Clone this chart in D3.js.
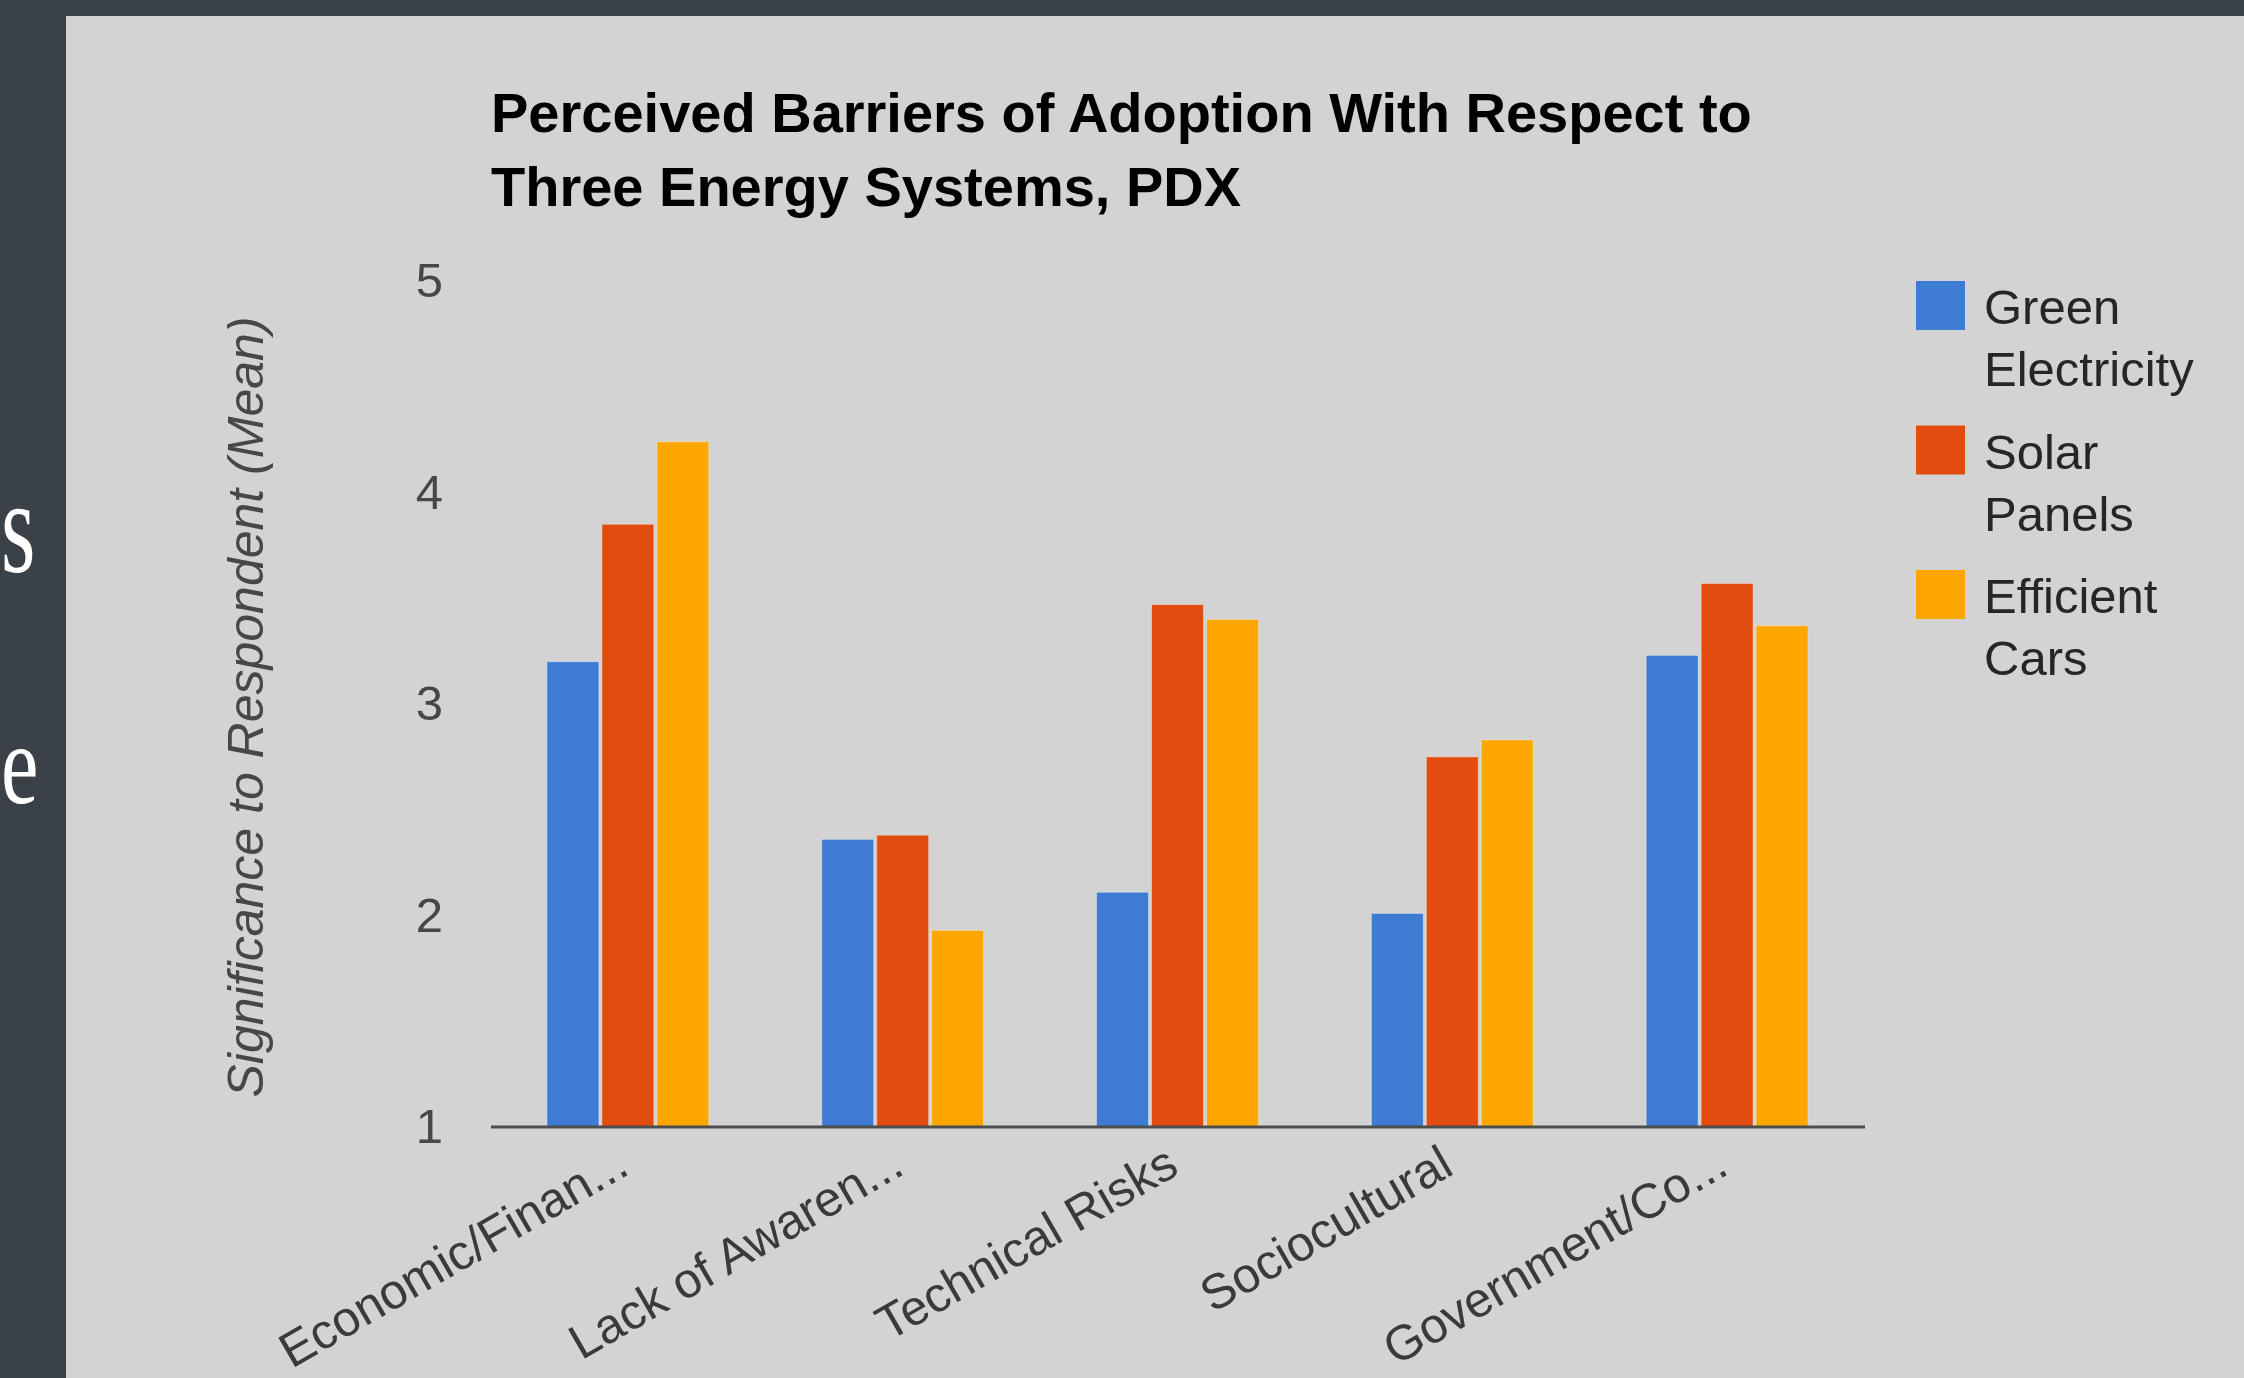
<!DOCTYPE html>
<html>
<head>
<meta charset="utf-8">
<script src="https://cdn.jsdelivr.net/npm/d3@7"></script>
<style>
  body { margin: 0; background: #3a4248; }
  svg { display: block; }
</style>
</head>
<body>
<svg id="graph" width="2244" height="1378"></svg>
<script>
// data
var categories = [
  "Economic/Finan...",
  "Lack of Awaren...",
  "Technical Risks",
  "Sociocultural",
  "Government/Co...",
];
var seriesNames = ["Green Electricity", "Solar Panels", "Efficient Cars"];
var legendLines = [["Green", "Electricity"], ["Solar", "Panels"], ["Efficient", "Cars"]];
var greenElectricity = [3.2, 2.36, 2.11, 2.01, 3.23];
var solarPanels = [3.85, 2.38, 3.47, 2.75, 3.57];
var efficientCars = [4.24, 1.93, 3.4, 2.83, 3.37];
var yTicks = [1, 2, 3, 4, 5];
var colors = ["#3e7bd3", "#e24c0f", "#fea600"];

var width = 2244,
  height = 1378;

var plot = { left: 491, right: 1865, top: 281, bottom: 1127 };

var graph = d3.select("#graph");

// slide background + chart panel
graph.append("rect").attr("width", width).attr("height", height).attr("fill", "#3a4248");
graph
  .append("rect")
  .attr("x", 66)
  .attr("y", 16)
  .attr("width", width - 66)
  .attr("height", height - 16)
  .attr("fill", "#d3d3d3");

// bits of slide text peeking out on the left
graph
  .append("text")
  .attr("transform", "translate(1,572) scale(0.66,1)")
  .style("font-family", "'Liberation Serif', 'DejaVu Serif', serif")
  .style("font-size", "134px")
  .attr("fill", "#ffffff")
  .text("s");
graph
  .append("text")
  .attr("transform", "translate(1,803) scale(0.74,1)")
  .style("font-family", "'Liberation Serif', 'DejaVu Serif', serif")
  .style("font-size", "114px")
  .attr("fill", "#ffffff")
  .text("e");

var data = categories.map(function (c, i) {
  return { cat: c, values: [greenElectricity[i], solarPanels[i], efficientCars[i]] };
});

var x0 = d3
  .scaleBand()
  .domain(categories)
  .range([plot.left, plot.right])
  .paddingInner(0.4)
  .paddingOuter(0.2);

var x1 = d3.scaleBand().domain(seriesNames).range([0, x0.bandwidth()]);

var y = d3.scaleLinear().domain([1, 5]).range([plot.bottom, plot.top]);

var font = "'Liberation Sans', Arial, sans-serif";

// title
var title = graph
  .append("text")
  .attr("x", 491)
  .attr("y", 132)
  .style("font-family", font)
  .style("font-size", "56px")
  .style("font-weight", "bold")
  .attr("fill", "#000");
title.append("tspan").attr("x", 491).attr("y", 132).text("Perceived Barriers of Adoption With Respect to");
title.append("tspan").attr("x", 491).attr("y", 206).text("Three Energy Systems, PDX");

// y axis (labels only, no ticks or line)
var yAxis = d3.axisLeft(y).tickValues(yTicks).tickSize(0).tickPadding(0).tickFormat(d3.format("d"));
var yg = graph
  .append("g")
  .attr("transform", "translate(443,0)")
  .call(yAxis);
yg.select(".domain").remove();
yg.selectAll("text")
  .style("font-family", font)
  .style("font-size", "49px")
  .attr("fill", "#474747");

graph
  .append("text")
  .attr("transform", "translate(263,707) rotate(-90)")
  .attr("text-anchor", "middle")
  .style("font-family", font)
  .style("font-size", "50px")
  .style("font-style", "italic")
  .attr("fill", "#474747")
  .text("Significance to Respondent (Mean)");

// bars
var groups = graph
  .selectAll(".group")
  .data(data)
  .enter()
  .append("g")
  .attr("class", "group")
  .attr("transform", function (d) {
    return "translate(" + x0(d.cat) + ",0)";
  });

groups
  .selectAll("rect")
  .data(function (d) {
    return d.values.map(function (v, i) {
      return { key: seriesNames[i], value: v, i: i };
    });
  })
  .enter()
  .append("rect")
  .attr("x", function (d) {
    return x1(d.key) + 1;
  })
  .attr("y", function (d) {
    return y(d.value);
  })
  .attr("width", x1.bandwidth() - 3)
  .attr("height", function (d) {
    return y(1) - y(d.value);
  })
  .attr("fill", function (d) {
    return colors[d.i];
  })
  .attr("stroke", "#f2f2f2")
  .attr("stroke-opacity", 0.45)
  .attr("stroke-width", 1);

// x axis baseline + slanted labels
var xAxis = d3.axisBottom(x0).tickSize(0).tickPadding(0);
var xg = graph
  .append("g")
  .attr("transform", "translate(0," + plot.bottom + ")")
  .call(xAxis);
xg.select(".domain")
  .attr("d", "M" + plot.left + ",0H" + plot.right)
  .attr("stroke", "#4d4d4d")
  .attr("stroke-width", 3);
xg.selectAll(".tick text")
  .attr("y", 0)
  .attr("dy", 0)
  .attr("transform", "translate(3,46) rotate(-30)")
  .style("text-anchor", "end")
  .style("font-family", font)
  .style("font-size", "49px")
  .attr("fill", "#3a3a3a");

// legend
var legend = graph
  .selectAll(".legend")
  .data(seriesNames)
  .enter()
  .append("g")
  .attr("class", "legend")
  .attr("transform", function (d, i) {
    return "translate(1916," + (281 + i * 144.5) + ")";
  });

legend
  .append("rect")
  .attr("width", 49)
  .attr("height", 49)
  .attr("fill", function (d, i) {
    return colors[i];
  });

legend
  .append("text")
  .style("font-family", font)
  .style("font-size", "49px")
  .attr("fill", "#262626")
  .each(function (d, i) {
    var t = d3.select(this);
    legendLines[i].forEach(function (line, j) {
      t.append("tspan")
        .attr("x", 68)
        .attr("y", 43 + j * 62)
        .text(line);
    });
  });
</script>
</body>
</html>
